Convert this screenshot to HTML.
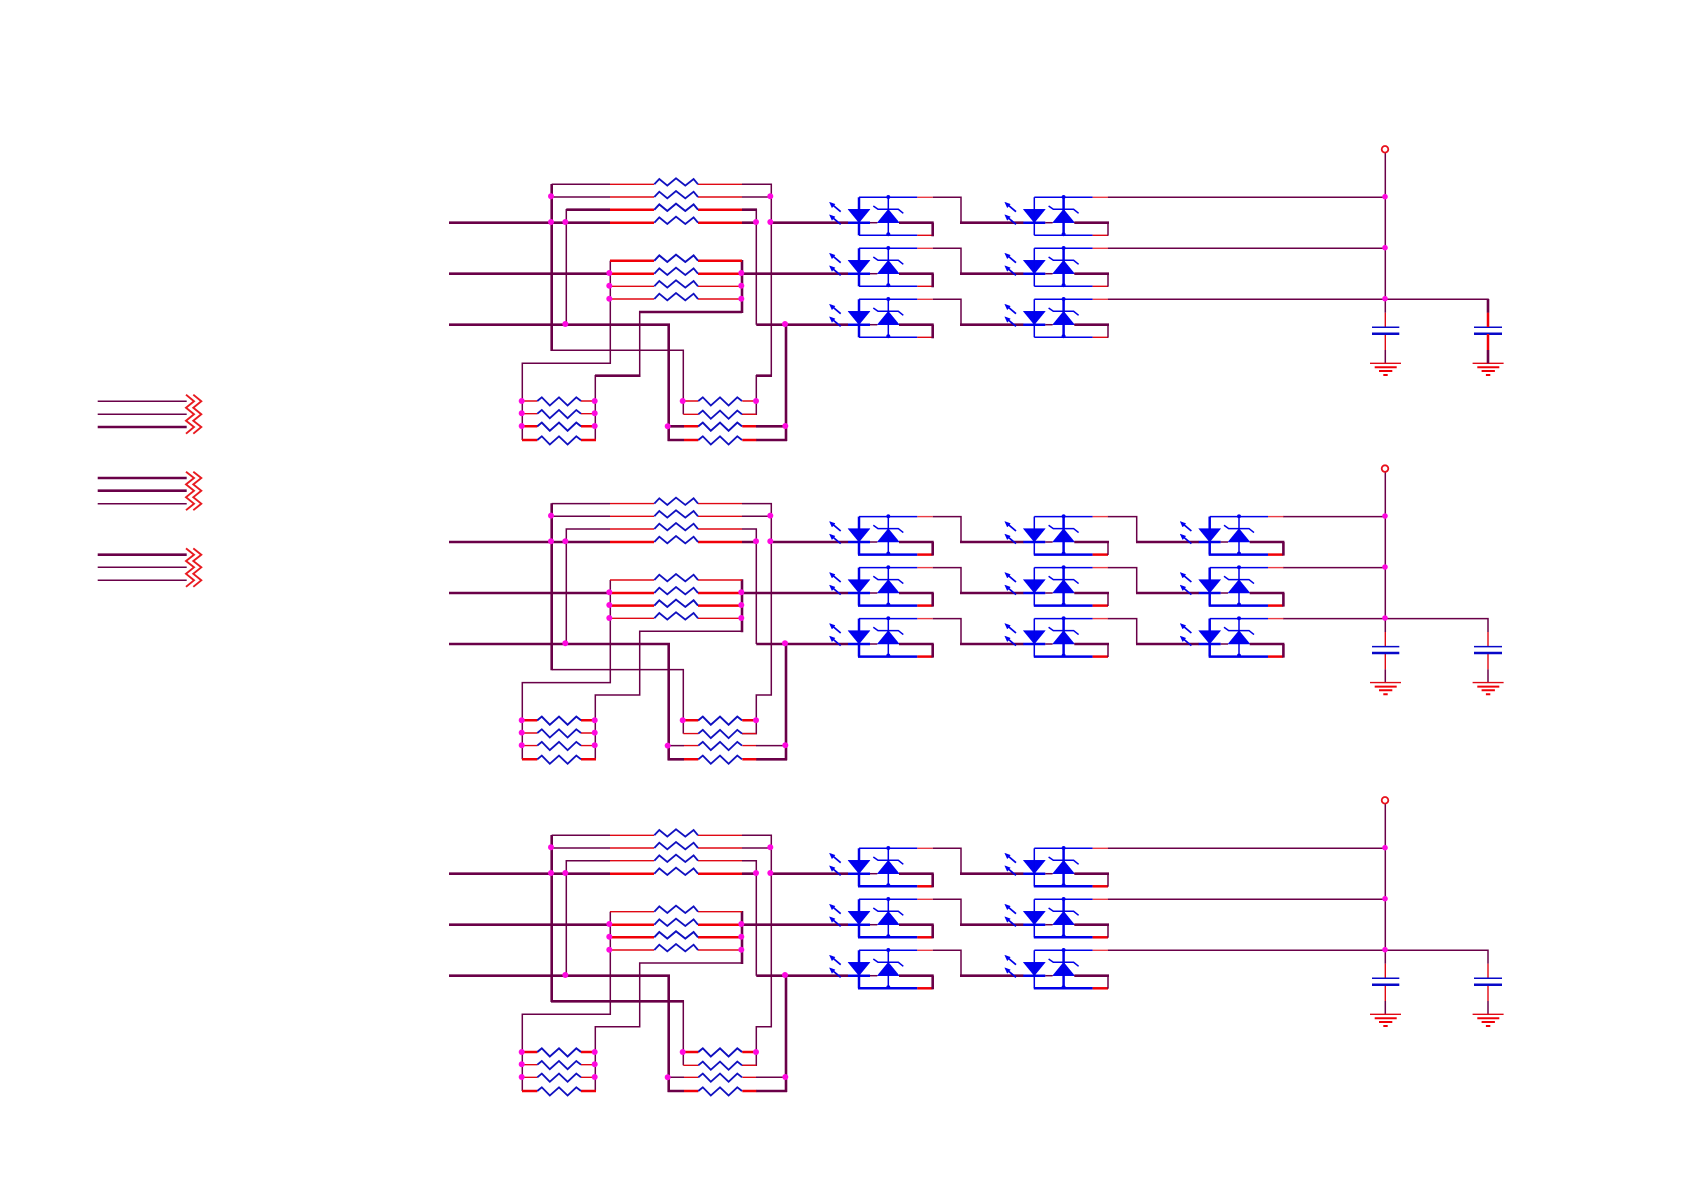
<!DOCTYPE html>
<html>
<head>
<meta charset="utf-8">
<title>Schematic</title>
<style>
html,body{margin:0;padding:0;background:#fff}
svg{display:block;filter:blur(.3px)}
.t,.k,.r,.rk,.b,.bk{fill:none;stroke-linejoin:miter;stroke-linecap:butt}
.t{stroke:#6a0048;stroke-width:1.5}
.k{stroke:#6a0048;stroke-width:2.6}
.r{stroke:#e00814;stroke-width:1.4}
.rk{stroke:#f00008;stroke-width:2.5}
.b{stroke:#0000e8;stroke-width:1.5}
.bk{stroke:#0000e8;stroke-width:2.5}
.z{fill:none;stroke:#1010c0;stroke-width:1.8}
.d{fill:#ff08e0}
.f{fill:#0000f0;stroke:#0000f0;stroke-width:.5}
</style>
</head>
<body>
<svg xmlns="http://www.w3.org/2000/svg" width="1684" height="1191" viewBox="0 0 1684 1191">
<defs>
<polyline id="rz" class="z" points="0,0 5,-5.3 13,1.3 21.7,-6 31,1.3 39.3,-5.3 43.7,0"/>
<polyline id="ry" class="z" points="0,0 4.5,-3.7 12.5,4.5 21.7,-3.7 30.3,4.5 39,-3.7 43.7,0"/>

<g id="core">
  <path class="b" style="stroke-width:1.7" d="M-18.3 -11L-27 -18.3M-18.3 1.6L-27 -5.6"/>
  <polygon class="f" points="-29.5,-20.5 -24,-18.5 -27,-15"/>
  <polygon class="f" points="-29.5,-7.9 -24,-5.9 -27,-2.4"/>
  <polygon class="f" points="-11,-13.4 11,-13.4 0,0"/>
  <polygon class="f" points="18.3,0 40.3,0 29.3,-13.4"/>
  <path class="b" d="M14.3 -16.7L19 -13.4H39.3L44.3 -9.4"/>
  <path class="b" d="M0 -25.4H58.3"/>
  <path class="r" style="stroke:#e83c48" d="M58.3 -25.4H73.7"/>
  <path class="bk" d="M-11 0H11"/>
  <path class="t" d="M11 0H18.3"/>
  <path class="k" d="M40 0H74.7"/>
  <circle class="f" cx="29.3" cy="-25.7" r="1.8"/>
  <circle class="f" cx="29.3" cy="11.5" r="1.8"/>
</g>
<g id="c1t">
  <use href="#core"/>
  <path class="bk" d="M0 -25.4V12.6"/><path class="b" d="M29.3 -26V12.6M0 12.6H58.3"/>
  <path class="r" d="M58.3 12.6H73.7"/><path class="k" d="M73.7 0V13.6"/>
</g>
<g id="c2t">
  <use href="#core"/>
  <path class="b" d="M0 -25.4V12.6M0 12.6H58.3"/><path class="bk" d="M29.3 -26V12.6"/>
  <path class="r" d="M58.3 12.6H73.7"/><path class="t" d="M73.7 0V13"/>
</g>
<g id="c1k">
  <use href="#core"/>
  <path class="bk" d="M0 -25.4V12.6"/><path class="b" d="M29.3 -26V12.6"/><path class="bk" d="M-1 12.6H58.3"/>
  <path class="rk" d="M58.3 12.6H73.7"/><path class="k" d="M73.7 0V13.6"/>
</g>
<g id="c2k">
  <use href="#core"/>
  <path class="b" d="M0 -25.4V12.6"/><path class="bk" d="M29.3 -26V12.6M-.5 12.6H58.3"/>
  <path class="rk" d="M58.3 12.6H73.7"/><path class="t" d="M73.7 0V13"/>
</g>

<g id="wires">
  <!-- thin purple -->
  <path class="t" d="M551.7 184.3H610M742 184.3H771.3V375.7H756.3V414.3H742
    M551.7 197H610M742 197H771.3
    M566.3 324.7V209.7H610M742 209.7H756.3V324.7
    M610.3 260.7V363.3H522.3V440M742 312H639.7V375.7H595.3V440
    M551.7 350.3H683.3V414.3"/>
  <!-- thick purple -->
  <path class="k" d="M449 222.7H610M449 273.7H610M449 324.7H668.7V441M742 222.7H756.3
    M786 324.7V441M756.3 324.7H848M770 222.7H848M742 273.7H848
    M551.7 184V351M742 260V313M667.6 440H684M756 440H787"/>
  <!-- red thin -->
  <path class="r" d="M610 184.3H654M698 184.3H742M610 197H654M698 197H742M610 209.7H654M698 209.7H742
    M610 260.7H654M698 260.7H742M610 286.3H654M698 286.3H742M610 299H654M698 299H742
    M522.3 401H537.3M581 401H595.3M522.3 413.7H537.3M581 413.7H595.3M522.3 426.3H537.3M581 426.3H595.3
    M683.3 401H698.3M742.3 401H756.3M683.3 414.3H698.3M742.3 414.3H756.3
    M684 426.3H698.3M742.3 426.3H756.3"/>
  <path class="t" d="M668.7 426.3H684M756 426.3H786"/>
  <!-- red thick -->
  <path class="rk" d="M610 222.7H654M698 222.7H742M610 273.7H654M698 273.7H742
    M522 440H537.3M581 440H596M684 440H698.3M742.3 440H756.3"/>
  <!-- resistors -->
  <use href="#rz" x="654.3" y="184.3"/><use href="#rz" x="654.3" y="197"/><use href="#rz" x="654.3" y="209.7"/><use href="#rz" x="654.3" y="222.7"/>
  <use href="#rz" x="654.3" y="260.7"/><use href="#rz" x="654.3" y="273.7"/><use href="#rz" x="654.3" y="286.3"/><use href="#rz" x="654.3" y="299"/>
  <use href="#ry" x="537.3" y="401"/><use href="#ry" x="537.3" y="413.7"/><use href="#ry" x="537.3" y="426.3"/><use href="#ry" x="537.3" y="440"/>
  <use href="#ry" x="698.3" y="401"/><use href="#ry" x="698.3" y="414.3"/><use href="#ry" x="698.3" y="426.3"/><use href="#ry" x="698.3" y="440"/>
  <!-- steps col1 to col2 -->
  <path class="t" d="M932.7 197.3H961V222.7M932.7 248.3H961V273.7M932.7 299.3H961V324.7"/>
  <path class="k" d="M960 222.7H1023.5M960 273.7H1023.5M960 324.7H1023.5"/>
  <!-- bus -->
  <path class="t" d="M1385.3 153V312.7M1283 197.3H1385M1283 248.3H1385M1283 299.3H1488V312.7M1385.3 350V363.3M1488 350V363.3"/>
  <circle cx="1385" cy="149.3" r="3.3" fill="#fff" stroke="#e8101c" stroke-width="1.8"/>
  <path class="r" d="M1385.3 312.7V327M1385.3 334V350M1488 312.7V327M1488 334V350"/>
  <path class="b" style="stroke:#0808c8" d="M1372 327.3H1399.3M1474 327.3H1502"/>
  <path class="bk" style="stroke:#0808c8" d="M1372 333.7H1399.3M1474 333.7H1502"/>
  <g id="gnd">
    <path class="r" d="M1370 363.3H1401"/>
    <path class="rk" style="stroke-width:2" d="M1374.7 367.3H1396.7M1379 371H1392.3M1383.3 375H1387.7"/>
  </g>
  <use href="#gnd" x="102.6"/>
</g>

<g id="dots">
  <g class="d">
  <circle cx="551" cy="196.3" r="3"/><circle cx="551" cy="222" r="3"/><circle cx="565.3" cy="222" r="3"/>
  <circle cx="756" cy="222" r="3"/><circle cx="770.3" cy="196.3" r="3"/><circle cx="770.3" cy="222" r="3"/>
  <circle cx="609.3" cy="273" r="3"/><circle cx="609.3" cy="285.7" r="3"/><circle cx="609.3" cy="298.7" r="3"/>
  <circle cx="741.3" cy="273" r="3"/><circle cx="741.3" cy="285.7" r="3"/><circle cx="741.3" cy="298.7" r="3"/>
  <circle cx="565.3" cy="324" r="3"/><circle cx="785" cy="324" r="3"/>
  <circle cx="521.7" cy="401" r="3"/><circle cx="521.7" cy="413.3" r="3"/><circle cx="521.7" cy="426" r="3"/>
  <circle cx="594.7" cy="401" r="3"/><circle cx="594.7" cy="413.3" r="3"/><circle cx="594.7" cy="426" r="3"/>
  <circle cx="682.7" cy="401" r="3"/><circle cx="756" cy="401" r="3"/><circle cx="667.7" cy="426.3" r="3"/><circle cx="785.3" cy="426" r="3"/>
  <circle cx="1385" cy="196.7" r="2.8"/><circle cx="1385" cy="247.7" r="2.8"/><circle cx="1385" cy="298.7" r="2.8"/>
  </g>
</g>
</defs>

<rect width="1684" height="1191" fill="#fff"/>

<!-- off-sheet connectors -->
<path class="t" d="M97.7 401.3H186.7M97.7 414.3H186.7M97.7 503.7H186.7M97.7 567.3H186.7M97.7 580.3H186.7"/>
<path class="k" d="M97.7 427H186.7M97.7 478H186.7M97.7 490.7H186.7M97.7 554.7H186.7"/>
<g fill="none" stroke="#e81a20" stroke-width="1.9">
  <polyline points="186,394.7 194,401.3 186,407.7 194,414.3 186,420.7 194,427 186,433.7"/>
  <polyline points="193.3,394.7 201.3,401.3 193.3,407.7 201.3,414.3 193.3,420.7 201.3,427 193.3,433.7"/>
  <polyline points="186,471.7 194,478 186,484.4 194,490.7 186,497.2 194,503.7 186,510.2"/>
  <polyline points="193.3,471.7 201.3,478 193.3,484.4 201.3,490.7 193.3,497.2 201.3,503.7 193.3,510.2"/>
  <polyline points="186,548.4 194,554.7 186,561 194,567.3 186,573.8 194,580.3 186,586.8"/>
  <polyline points="193.3,548.4 201.3,554.7 193.3,561 201.3,567.3 193.3,573.8 201.3,580.3 193.3,586.8"/>
</g>

<!-- BLOCK 1 -->
<g>
  <use href="#wires"/>
  <path class="rk" d="M610 209.7H654M698 209.7H742M610 260.7H654M698 260.7H742M522 426.3H537.3M581 426.3H596M684 426.3H698.3M742.3 426.3H756.3"/>
  <path class="k" d="M566.3 209.7H610M742 209.7H757M742 312H639M595 375.7H640.5M756 375.7H772M668 426.3H684M756 426.3H786M1488 299V312.7M1488 350V363.3"/>
  <path class="rk" d="M1488 312.7V327M1488 334V350"/>
  <use href="#rz" x="654.3" y="209.7"/><use href="#rz" x="654.3" y="260.7"/><use href="#ry" x="537.3" y="426.3"/><use href="#ry" x="698.3" y="426.3"/>
  <path class="t" d="M1107.7 197.3H1283M1107.7 248.3H1283M1107.7 299.3H1283"/>
  <use href="#c1t" x="859" y="222.7"/><use href="#c1t" x="859" y="273.7"/><use href="#c1t" x="859" y="324.7"/>
  <use href="#c2t" x="1034.3" y="222.7"/><use href="#c2t" x="1034.3" y="273.7"/><use href="#c2t" x="1034.3" y="324.7"/>
  <use href="#dots"/>
</g>

<!-- BLOCK 2 -->
<g transform="translate(0,319.3)">
  <use href="#wires"/>
  <path class="rk" d="M610 286.3H654M698 286.3H742M522 401H537.3M581 401H596M683.3 401H698.3M742.3 401H757"/>
  <use href="#rz" x="654.3" y="286.3"/><use href="#ry" x="537.3" y="401"/><use href="#ry" x="698.3" y="401"/>
  <path class="t" d="M1107.7 197.3H1136.7V222.7M1107.7 248.3H1136.7V273.7M1107.7 299.3H1136.7V324.7"/>
  <path class="k" d="M1136 222.7H1199M1136 273.7H1199M1136 324.7H1199"/>
  <use href="#c1k" x="859" y="222.7"/><use href="#c1k" x="859" y="273.7"/><use href="#c1k" x="859" y="324.7"/>
  <use href="#c2k" x="1034.3" y="222.7"/><use href="#c2k" x="1034.3" y="273.7"/><use href="#c2k" x="1034.3" y="324.7"/>
  <use href="#c1k" x="1209.7" y="222.7"/><use href="#c1k" x="1209.7" y="273.7"/><use href="#c1k" x="1209.7" y="324.7"/>
  <use href="#dots"/>
</g>

<!-- BLOCK 3 -->
<g transform="translate(0,651)">
  <use href="#wires"/>
  <path class="rk" d="M610 286.3H654M698 286.3H742M522 401H537.3M581 401H596M683.3 401H698.3M742.3 401H757"/>
  <path class="k" d="M551 350.3H684"/>
  <use href="#rz" x="654.3" y="286.3"/><use href="#ry" x="537.3" y="401"/><use href="#ry" x="698.3" y="401"/>
  <path class="t" d="M1107.7 197.3H1283M1107.7 248.3H1283M1107.7 299.3H1283"/>
  <use href="#c1k" x="859" y="222.7"/><use href="#c1k" x="859" y="273.7"/><use href="#c1k" x="859" y="324.7"/>
  <use href="#c2k" x="1034.3" y="222.7"/><use href="#c2k" x="1034.3" y="273.7"/><use href="#c2k" x="1034.3" y="324.7"/>
  <use href="#dots"/>
</g>
</svg>
</body>
</html>
